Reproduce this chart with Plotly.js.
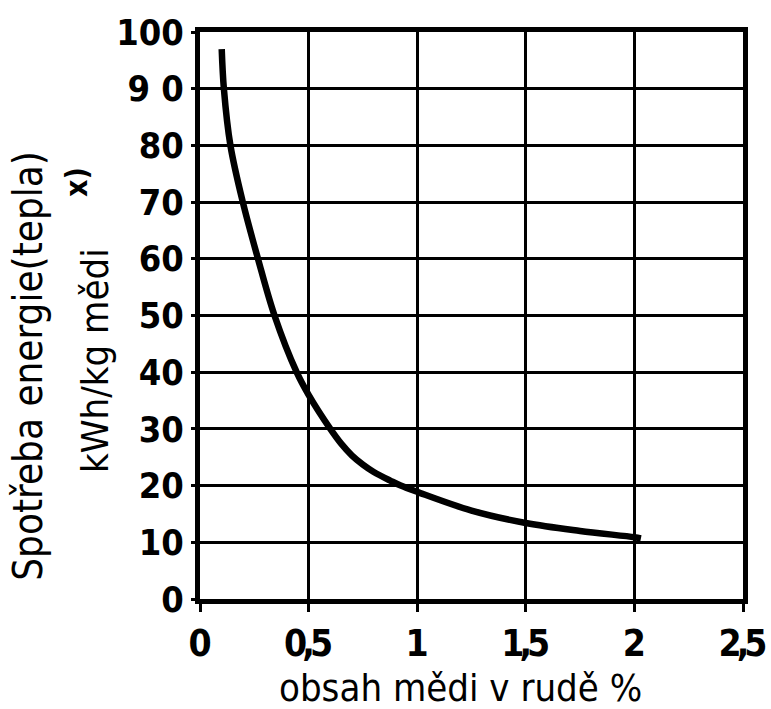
<!DOCTYPE html>
<html>
<head>
<meta charset="utf-8">
<script src="https://cdn.plot.ly/plotly-3.0.1.min.js"></script>
<style>html,body{margin:0;padding:0;background:#fff;}#chart{width:771px;height:709px;}</style>
</head>
<body>
<div id="chart"></div>
<script>
// Data
const copperContent = [0.1, 0.11, 0.14, 0.197, 0.267, 0.343, 0.445, 0.5, 0.6, 0.65, 0.7, 0.75, 0.8, 0.88, 0.924, 1.0, 1.25, 1.5, 1.75, 2.0, 2.03];
const energyUse    = [97, 90, 80, 70, 60, 50, 40, 36, 30, 27.4, 25.3, 23.7, 22.4, 20.8, 20, 18.9, 15.6, 13.4, 12, 10.9, 10.7];

const xTickVals = [0, 0.5, 1, 1.5, 2, 2.5];
const xTickText = ["0", "0,5", "1", "1,5", "2", "2,5"];
const yTickVals = [0, 10, 20, 30, 40, 50, 60, 70, 80, 90, 100];
const yTickText = ["0", "10", "20", "30", "40", "50", "60", "70", "80", "9 0", "100"];

const xTitle = "obsah mědi v rudě %";
const yTitle1 = "Spotřeba energie(tepla)";
const yTitle2 = "kWh/kg mědi";
const yTitleNote = "x)";

const FONT = "DejaVu Sans Condensed, DejaVu Sans";

// tighten the decimal comma (it sits under the digits in the reference)
const xTickTextTight = xTickText.map(t => t.includes(",")
  ? "<span style='letter-spacing:-5px'>" + t.split(",")[0] + ",</span>" + t.split(",")[1]
  : t);

const trace = {
  x: copperContent,
  y: energyUse,
  type: "scatter",
  mode: "lines",
  line: {color: "#000", width: 6.5, shape: "spline", smoothing: 1},
  hoverinfo: "skip"
};

const layout = {
  width: 771,
  height: 709,
  margin: {l: 200, r: 28, t: 32, b: 110},
  paper_bgcolor: "#fff",
  plot_bgcolor: "#fff",
  showlegend: false,
  font: {family: FONT, color: "#000"},
  xaxis: {
    range: [0, 2.5],
    tickvals: xTickVals,
    ticktext: xTickTextTight,
    ticklabeloverflow: "allow",
    showgrid: true,
    gridcolor: "#000",
    gridwidth: 3,
    zeroline: false,
    showline: true,
    linecolor: "#000",
    linewidth: 5,
    mirror: true,
    ticks: "outside",
    ticklen: 8,
    tickwidth: 3,
    tickcolor: "#000",
    tickfont: {family: FONT, size: 37, color: "#000", weight: "bold"},
    fixedrange: true
  },
  yaxis: {
    range: [0, 100],
    tickvals: yTickVals,
    ticktext: yTickText,
    ticklabeloverflow: "allow",
    showgrid: true,
    gridcolor: "#000",
    gridwidth: 3,
    zeroline: false,
    showline: true,
    linecolor: "#000",
    linewidth: 5,
    mirror: true,
    ticks: "outside",
    ticklen: 4,
    tickwidth: 3,
    tickcolor: "#000",
    tickfont: {family: FONT, size: 36, color: "#000", weight: "bold"},
    fixedrange: true
  },
  annotations: [
    {text: xTitle, xref: "paper", yref: "paper", x: 0.479, y: -0.157, xanchor: "center", yanchor: "middle",
     showarrow: false, font: {family: FONT, size: 38, color: "#000"}},
    {text: yTitle1, xref: "paper", yref: "paper", x: -0.316, y: 0.412, xanchor: "center", yanchor: "middle",
     textangle: -90, showarrow: false, font: {family: FONT, size: 40, color: "#000"}},
    {text: yTitle2, xref: "paper", yref: "paper", x: -0.193, y: 0.42, xanchor: "center", yanchor: "middle",
     textangle: -90, showarrow: false, font: {family: FONT, size: 38, color: "#000"}},
    {text: yTitleNote, xref: "paper", yref: "paper", x: -0.227, y: 0.735, xanchor: "center", yanchor: "middle",
     textangle: -90, showarrow: false, font: {family: FONT, size: 30, color: "#000", weight: "bold"}}
  ]
};

Plotly.newPlot("chart", [trace], layout, {staticPlot: true, displayModeBar: false});
</script>
</body>
</html>
